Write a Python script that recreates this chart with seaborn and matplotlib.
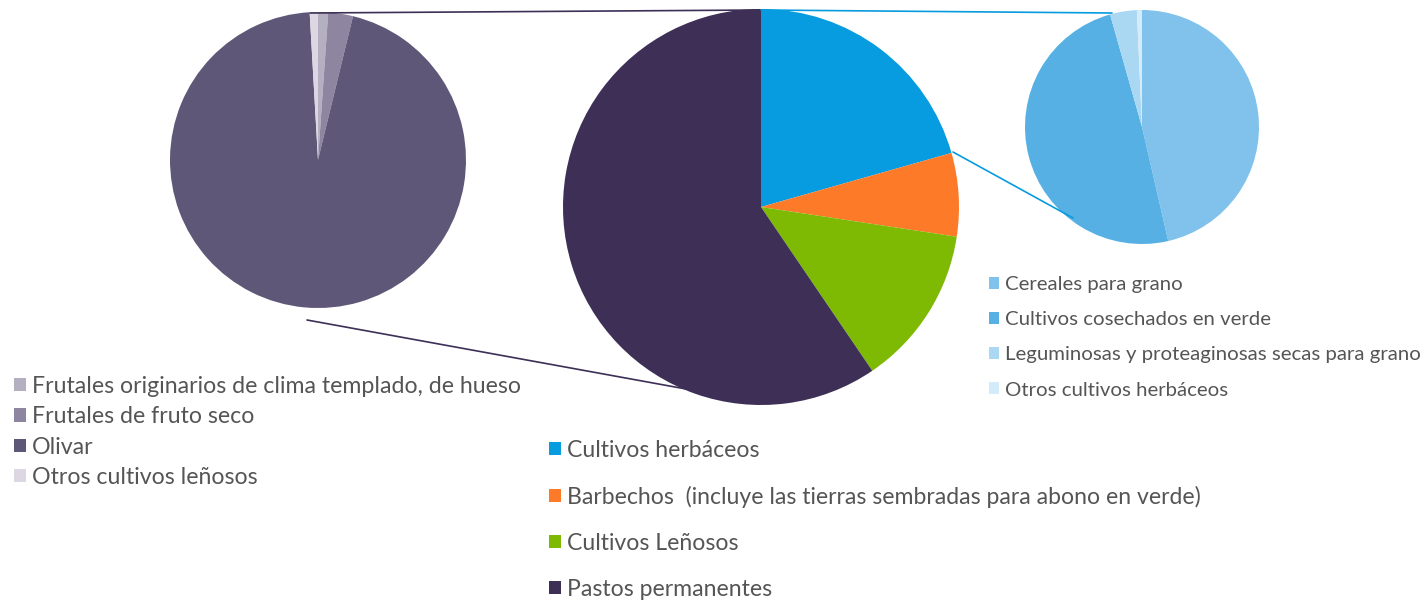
import matplotlib
matplotlib.use('Agg')
import matplotlib.pyplot as plt
import seaborn as sns
from matplotlib.patches import Patch

# data (percent shares)
main_labels = ['Cultivos herbáceos',
               'Barbechos  (incluye las tierras sembradas para abono en verde)',
               'Cultivos Leñosos', 'Pastos permanentes']
main_values = [20.6, 6.8, 13.1, 59.5]
main_colors = ['#079BDF', '#FD7A28', '#7EB903', '#3D2F55']

wood_labels = ['Frutales originarios de clima templado, de hueso',
               'Frutales de fruto seco', 'Olivar', 'Otros cultivos leñosos']
wood_values = [1.1, 2.7, 95.3, 0.9]
wood_colors = ['#B5AFC2', '#8E85A0', '#5F5778', '#DCD7E3']

herb_labels = ['Cereales para grano', 'Cultivos cosechados en verde',
               'Leguminosas y proteaginosas secas para grano',
               'Otros cultivos herbáceos']
herb_values = [46.4, 49.2, 3.7, 0.7]
herb_colors = ['#80C2EC', '#57B0E4', '#AAD7F2', '#D4EBF9']

sns.set_theme(style='white')
plt.rcParams['font.family'] = ['Lato', 'DejaVu Sans']

W, H = 1428, 601
fig = plt.figure(figsize=(W / 100, H / 100), dpi=100)
ax = fig.add_axes([0, 0, 1, 1])

def py(y):
    # pixel row -> data y
    return H - y

wp = dict(linewidth=0)
ax.pie(main_values, colors=main_colors, startangle=90, counterclock=False,
       center=(761, py(207)), radius=198, wedgeprops=wp, frame=True)
ax.pie(wood_values, colors=wood_colors, startangle=90, counterclock=False,
       center=(318, py(160)), radius=148, wedgeprops=wp, frame=True)
ax.pie(herb_values, colors=herb_colors, startangle=90, counterclock=False,
       center=(1142, py(127)), radius=117, wedgeprops=wp, frame=True)

# connector lines
ax.plot([310, 761], [py(13), py(10)], color='#3D2F55', lw=1.2)
ax.plot([307, 686], [py(320), py(389)], color='#3D2F55', lw=1.2)
ax.plot([761, 1112], [py(10), py(13)], color='#079BDF', lw=1.2)
ax.plot([953, 1073], [py(152), py(218)], color='#079BDF', lw=1.2)

ax.set_xlim(0, W)
ax.set_ylim(0, H)
ax.set_aspect('auto')
ax.axis('off')

txt = '#555555'

def make_legend(labels, colors, anchor, size, spacing):
    handles = [Patch(facecolor=c, edgecolor='none') for c in colors]
    leg = fig.legend(handles, labels, loc='upper left',
                     bbox_to_anchor=(anchor[0] / W, 1 - anchor[1] / H),
                     frameon=False, fontsize=size, labelspacing=spacing,
                     handlelength=0.5, handleheight=0.5, handletextpad=0.28,
                     borderpad=0, borderaxespad=0, labelcolor=txt)
    return leg

make_legend(wood_labels, wood_colors, (14, 376), 16.7, 0.40)
make_legend(main_labels, main_colors, (549, 440), 16.6, 1.08)
make_legend(herb_labels, herb_colors, (989, 276), 14.7, 0.89)

fig.savefig('out.png', dpi=100)
